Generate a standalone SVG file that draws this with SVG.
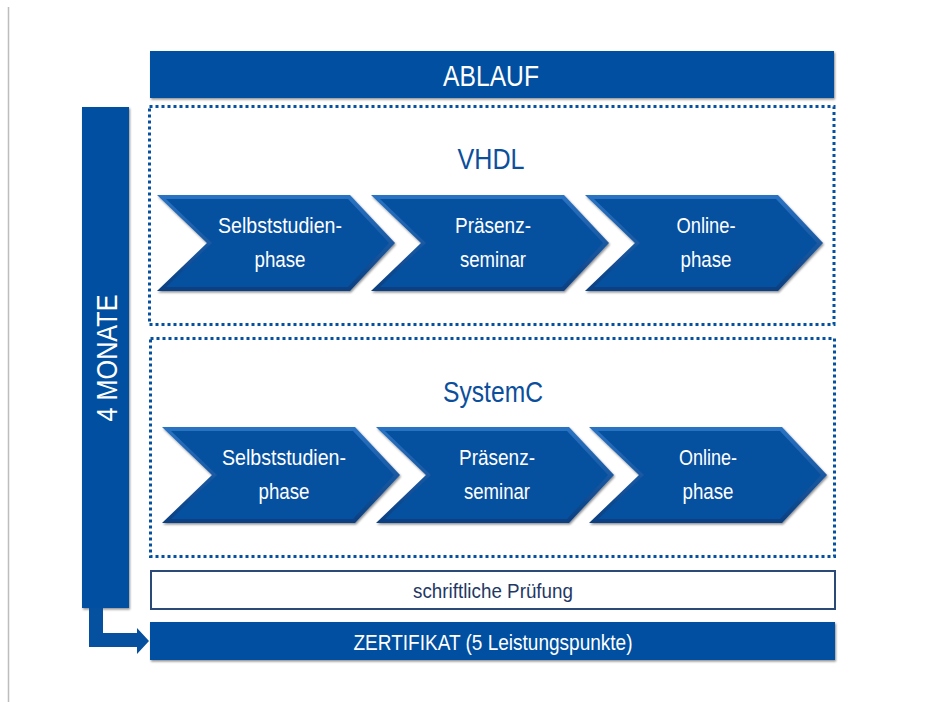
<svg xmlns="http://www.w3.org/2000/svg" width="931" height="702" viewBox="0 0 931 702">
<defs>
<filter id="sh" x="-5%" y="-10%" width="110%" height="125%">
<feDropShadow dx="1" dy="1.5" stdDeviation="1" flood-color="#000" flood-opacity="0.45"/>
</filter>
<linearGradient id="bev" x1="0" y1="0" x2="0" y2="1">
<stop offset="0" stop-color="#2a73c4"/>
<stop offset="1" stop-color="#0a3f80"/>
</linearGradient>
</defs>
<style>
.bar{fill:#0650a0;filter:url(#sh)}
.dot{fill:none;stroke:#0650a0;stroke-width:3;stroke-dasharray:3 3}
.chO{fill:url(#bev);filter:url(#sh)}
.chI{fill:#0650a0}
.t{font-family:"Liberation Sans",Arial,sans-serif;text-anchor:middle}
.w{fill:#ffffff}
.b{fill:#0b4f9c}
.d{fill:#1f3864}
.ct{font-size:22px}
</style>
<rect width="931" height="702" fill="#ffffff"/>
<line x1="8.5" y1="7" x2="8.5" y2="702" stroke="#bdbdbd" stroke-width="1.5"/>

<g id="ablauf">
<rect class="bar" x="150" y="51" width="684" height="47"/>
<text class="t w" x="491" y="86" font-size="29" textLength="96" lengthAdjust="spacingAndGlyphs">ABLAUF</text>
</g>

<g id="monate">
<rect class="bar" x="82" y="107" width="47" height="501"/>
<text class="t w" transform="translate(117,358) rotate(-90)" x="0" y="0" font-size="29" textLength="127" lengthAdjust="spacingAndGlyphs">4 MONATE</text>
</g>

<g id="vhdl">
<rect class="dot" x="149.5" y="106.5" width="684.5" height="218"/>
<text class="t b" x="491" y="169" font-size="29" textLength="67" lengthAdjust="spacingAndGlyphs">VHDL</text>
</g>

<g id="vhdl-selbst">
<polygon class="chO" points="157,195 350,195 395,243 350,291 157,291 207,243"/>
<polygon class="chI" points="166,199 348,199 389,243 348,287 166,287 212,243"/>
<text class="t w ct" x="280" y="233" textLength="124" lengthAdjust="spacingAndGlyphs">Selbststudien-</text>
<text class="t w ct" x="280" y="267" textLength="51" lengthAdjust="spacingAndGlyphs">phase</text>
</g>
<g id="vhdl-praesenz">
<polygon class="chO" points="371,195 564,195 609,243 564,291 371,291 421,243"/>
<polygon class="chI" points="380,199 562,199 603,243 562,287 380,287 426,243"/>
<text class="t w ct" x="493" y="233" textLength="76" lengthAdjust="spacingAndGlyphs">Präsenz-</text>
<text class="t w ct" x="493" y="267" textLength="66" lengthAdjust="spacingAndGlyphs">seminar</text>
</g>
<g id="vhdl-online">
<polygon class="chO" points="585,195 778,195 823,243 778,291 585,291 635,243"/>
<polygon class="chI" points="594,199 776,199 817,243 776,287 594,287 640,243"/>
<text class="t w ct" x="706" y="233" textLength="59" lengthAdjust="spacingAndGlyphs">Online-</text>
<text class="t w ct" x="706" y="267" textLength="51" lengthAdjust="spacingAndGlyphs">phase</text>
</g>

<g id="systemc">
<rect class="dot" x="150.5" y="338.5" width="684" height="218"/>
<text class="t b" x="493" y="402" font-size="29" textLength="100" lengthAdjust="spacingAndGlyphs">SystemC</text>
</g>

<g id="systemc-selbst">
<polygon class="chO" points="162,427 355,427 400,475 355,523 162,523 212,475"/>
<polygon class="chI" points="171,431 353,431 394,475 353,519 171,519 217,475"/>
<text class="t w ct" x="284" y="465" textLength="124" lengthAdjust="spacingAndGlyphs">Selbststudien-</text>
<text class="t w ct" x="284" y="499" textLength="51" lengthAdjust="spacingAndGlyphs">phase</text>
</g>
<g id="systemc-praesenz">
<polygon class="chO" points="376,427 569,427 614,475 569,523 376,523 426,475"/>
<polygon class="chI" points="385,431 567,431 608,475 567,519 385,519 431,475"/>
<text class="t w ct" x="497" y="465" textLength="76" lengthAdjust="spacingAndGlyphs">Präsenz-</text>
<text class="t w ct" x="497" y="499" textLength="66" lengthAdjust="spacingAndGlyphs">seminar</text>
</g>
<g id="systemc-online">
<polygon class="chO" points="589,427 782,427 827,475 782,523 589,523 639,475"/>
<polygon class="chI" points="598,431 780,431 821,475 780,519 598,519 644,475"/>
<text class="t w ct" x="708" y="465" textLength="58" lengthAdjust="spacingAndGlyphs">Online-</text>
<text class="t w ct" x="708" y="499" textLength="51" lengthAdjust="spacingAndGlyphs">phase</text>
</g>

<g id="pruefung">
<rect x="151" y="571" width="684" height="38" fill="#ffffff" stroke="#2b4a78" stroke-width="2"/>
<text class="t d" x="493" y="598" font-size="21" textLength="160" lengthAdjust="spacingAndGlyphs">schriftliche Prüfung</text>
</g>

<g id="zertifikat">
<rect class="bar" x="150" y="622" width="685" height="38"/>
<text class="t w" x="493" y="650" font-size="22" textLength="279" lengthAdjust="spacingAndGlyphs">ZERTIFIKAT (5 Leistungspunkte)</text>
</g>

<g id="connectors">
<path d="M89,608 V647 H137 V654 L149,641 L137,628 V633 H103 V608 Z" fill="#0650a0"/>
</g>
</svg>
